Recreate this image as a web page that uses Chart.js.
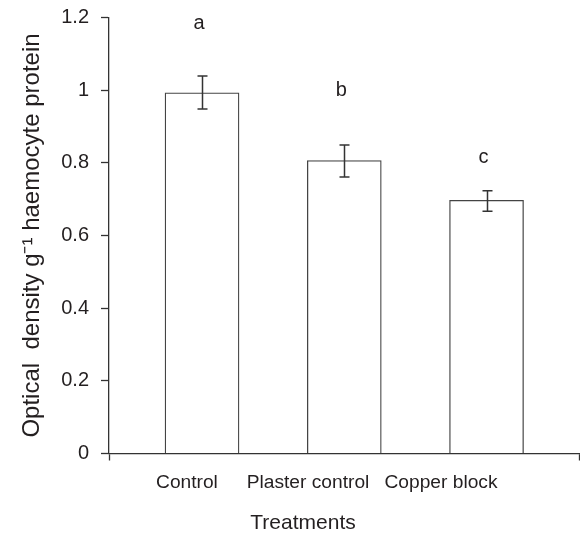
<!DOCTYPE html>
<html>
<head>
<meta charset="utf-8">
<script src="https://cdn.jsdelivr.net/npm/chart.js@4/dist/chart.umd.min.js"></script>
<style>
  html, body { margin: 0; padding: 0; background: #fff; }
  #wrap { width: 580px; height: 536px; }
</style>
</head>
<body>
<div id="wrap"><canvas id="c" width="580" height="536"></canvas></div>
<script>
// ---- data ----
const categories = ['Control', 'Plaster control', 'Copper block'];
const means      = [0.993, 0.806, 0.697];
const errLow     = [0.948, 0.761, 0.667];
const errHigh    = [1.039, 0.849, 0.723];
const letters    = ['a', 'b', 'c'];
const letterY    = [1.167, 0.984, 0.800];
const yTicks     = [0, 0.2, 0.4, 0.6, 0.8, 1, 1.2];

// ---- layout constants (not data) ----
const X_MIN = 0.346, X_MAX = 3.650;
const LABEL_AT = [0.894, 1.745, 2.680];
const TITLE_AT = 1.710;
const FONT = '"Liberation Sans", Arial, Helvetica, sans-serif';
const INK = '#231f20';

const barPoints = categories.map((c, i) => ({ x: i + 1, y: means[i] }));

const overlay = {
  id: 'overlay',
  afterDatasetsDraw(chart) {
    const { ctx, scales: { x, y } } = chart;
    ctx.save();
    ctx.strokeStyle = '#333';
    ctx.lineWidth = 1.5;
    categories.forEach((c, i) => {
      const px = Math.round(x.getPixelForValue(i + 1)) + 0.5;
      const y1 = y.getPixelForValue(errLow[i]);
      const y2 = y.getPixelForValue(errHigh[i]);
      ctx.beginPath();
      ctx.moveTo(px, y1); ctx.lineTo(px, y2);
      ctx.moveTo(px - 5, y1); ctx.lineTo(px + 5, y1);
      ctx.moveTo(px - 5, y2); ctx.lineTo(px + 5, y2);
      ctx.stroke();
    });
    ctx.fillStyle = INK;
    ctx.font = '20px ' + FONT;
    ctx.textAlign = 'center';
    ctx.textBaseline = 'alphabetic';
    letters.forEach((l, i) => {
      ctx.fillText(l, x.getPixelForValue(i + 1) - 3, y.getPixelForValue(letterY[i]));
    });
    ctx.font = '21px ' + FONT;
    ctx.textBaseline = 'middle';
    ctx.fillText('Treatments', x.getPixelForValue(TITLE_AT), 523);
    ctx.restore();
  }
};

new Chart(document.getElementById('c'), {
  type: 'bar',
  data: {
    datasets: [{
      data: barPoints,
      backgroundColor: '#ffffff',
      borderColor: '#444',
      borderWidth: 1.3,
      borderSkipped: 'start',
      barThickness: 74
    }]
  },
  options: {
    responsive: false,
    animation: false,
    events: [],
    layout: { padding: { top: 17.5, right: 1, bottom: 0, left: 0 } },
    plugins: { legend: { display: false }, tooltip: { enabled: false } },
    scales: {
      x: {
        type: 'linear',
        min: X_MIN,
        max: X_MAX,
        offset: false,
        afterFit(scale) { scale.height = 82.5; scale.paddingLeft = 0; scale.paddingRight = 0; },
        afterBuildTicks(scale) {
          scale.ticks = [{ value: X_MIN }, ...LABEL_AT.map(v => ({ value: v })), { value: X_MAX }];
        },
        ticks: {
          autoSkip: false,
          maxRotation: 0,
          minRotation: 0,
          padding: 11,
          color: INK,
          font: { size: 19.2, family: FONT },
          callback: (v, i) => (i >= 1 && i <= categories.length) ? categories[i - 1] : ''
        },
        grid: {
          offset: false,
          drawOnChartArea: false,
          drawTicks: true,
          tickLength: 7,
          tickWidth: 1.3,
          tickColor: (ctx) => (ctx.index === 0 || ctx.index === categories.length + 1) ? '#333' : 'rgba(0,0,0,0)'
        },
        border: { display: true, color: '#333', width: 1.3 }
      },
      y: {
        min: 0,
        max: 1.2,
        afterFit(scale) { scale.width = 109; scale.paddingTop = 0; scale.paddingBottom = 0; },
        afterBuildTicks(scale) { scale.ticks = yTicks.map(v => ({ value: v })); },
        ticks: {
          padding: 12,
          color: INK,
          font: { size: 20, family: FONT },
          callback: (v) => String(Math.round(v * 10) / 10)
        },
        grid: {
          drawOnChartArea: false,
          drawTicks: true,
          tickLength: 8,
          tickWidth: 1.3,
          tickColor: '#333'
        },
        border: { display: true, color: '#333', width: 1.3 },
        title: {
          display: true,
          text: 'Optical  density g\u207B\u00B9 haemocyte protein',
          color: INK,
          font: { size: 24, family: FONT },
          padding: { top: 18, bottom: 0 }
        }
      }
    }
  },
  plugins: [overlay]
});
</script>
</body>
</html>
